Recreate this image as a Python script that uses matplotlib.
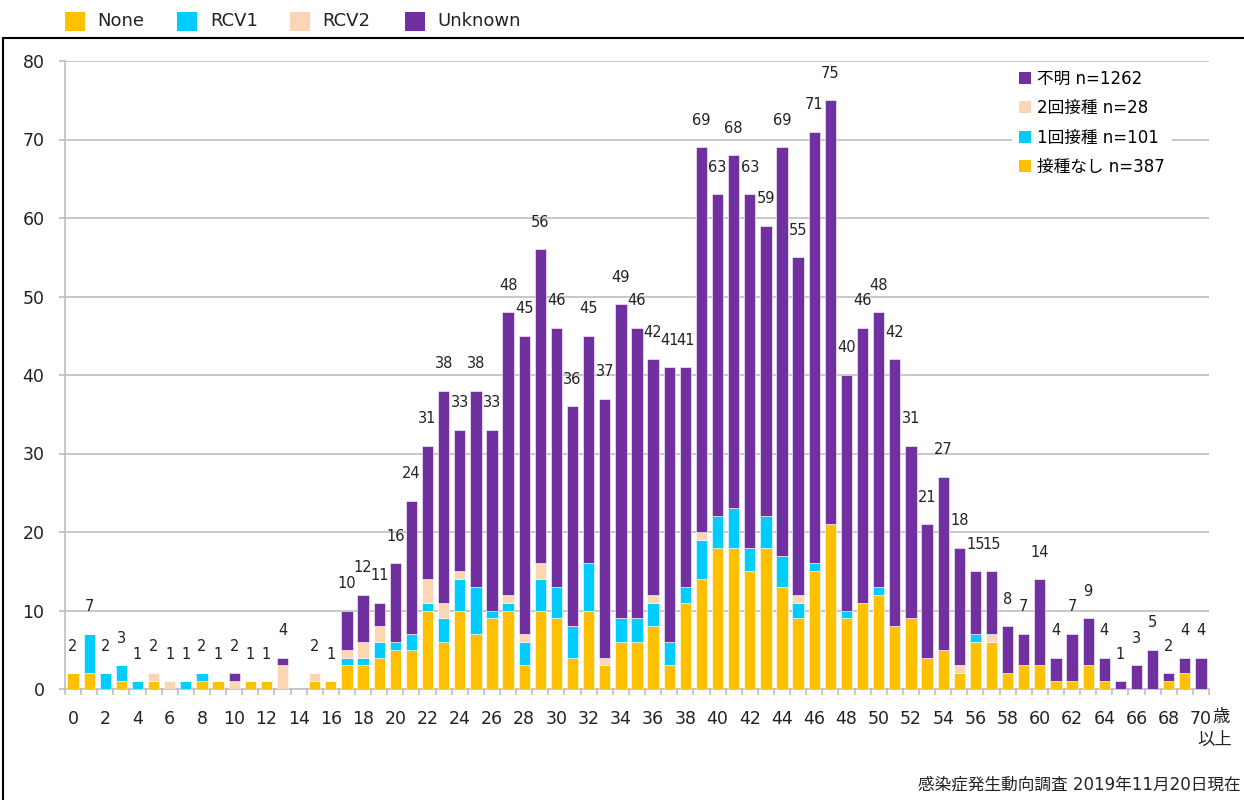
import numpy as np
import matplotlib
matplotlib.use('Agg')
from matplotlib import pyplot as plt
from matplotlib.patches import Rectangle, Patch

plt.rcParams['font.family'] = ['DejaVu Sans', 'Noto Sans CJK JP']

# data (ages 0..70, 70 = "70歳以上")
ages = list(range(71))
none_vals = [2, 2, 0, 1, 0, 1, 0, 0, 1, 1, 0, 1, 1, 0, 0, 1, 1,
             3, 3, 4, 5, 5, 10, 6, 10, 7, 9,
             10, 3, 10, 9, 4, 10, 3, 6, 6, 8,
             3, 11, 14, 18, 18, 15, 18, 13, 9, 15,
             21, 9, 11, 12, 8, 9, 4, 5, 2, 6,
             6, 2, 3, 3, 1, 1, 3, 1, 0, 0, 0, 1, 2, 0]
rcv1_vals = [0, 5, 2, 2, 1, 0, 0, 1, 1, 0, 0, 0, 0, 0, 0, 0, 0,
             1, 1, 2, 1, 2, 1, 3, 4, 6, 1,
             1, 3, 4, 4, 4, 6, 0, 3, 3, 3,
             3, 2, 5, 4, 5, 3, 4, 4, 2, 1,
             0, 1, 0, 1, 0, 0, 0, 0, 0, 1,
             0, 0, 0, 0, 0, 0, 0, 0, 0, 0, 0, 0, 0, 0]
rcv2_vals = [0, 0, 0, 0, 0, 1, 1, 0, 0, 0, 1, 0, 0, 3, 0, 1, 0,
             1, 2, 2, 0, 0, 3, 2, 1, 0, 0,
             1, 1, 2, 0, 0, 0, 1, 0, 0, 1,
             0, 0, 1, 0, 0, 0, 0, 0, 1, 0,
             0, 0, 0, 0, 0, 0, 0, 0, 1, 0,
             1, 0, 0, 0, 0, 0, 0, 0, 0, 0, 0, 0, 0, 0]
unknown_vals = [0, 0, 0, 0, 0, 0, 0, 0, 0, 0, 1, 0, 0, 1, 0, 0, 0,
                5, 6, 3, 10, 17, 17, 27, 18, 25, 23,
                36, 38, 40, 33, 28, 29, 33, 40, 37, 30,
                35, 28, 49, 41, 45, 45, 37, 52, 43, 55,
                54, 30, 35, 35, 34, 22, 17, 22, 15, 8,
                8, 6, 4, 11, 3, 6, 6, 3, 1, 3, 5, 1, 2, 4]

series_names = ['None', 'RCV1', 'RCV2', 'Unknown']
legend_labels = ['接種なし n=387', '1回接種 n=101', '2回接種 n=28', '不明 n=1262']
colors = ['#FFC000', '#00CCFF', '#FCD5B5', '#7030A0']
source_text = '感染症発生動向調査 2019年11月20日現在'

W, H = 1244, 800
fig = plt.figure(figsize=(W / 100, H / 100), dpi=100)
ax = fig.add_axes([65 / W, 111 / H, 1144 / W, 628 / H])

x = np.arange(len(ages))
bottom = np.zeros(len(ages))
for vals, col in zip([none_vals, rcv1_vals, rcv2_vals, unknown_vals], colors):
    vals = np.array(vals)
    ax.bar(x, vals, width=0.7, bottom=bottom, color=col,
           edgecolor='white', linewidth=0.4, zorder=3)
    bottom = bottom + vals

totals = bottom
for xi, t in zip(x, totals):
    if t > 0:
        ax.annotate('%d' % t, (xi, t), xytext=(0, 19.5), textcoords='offset points',
                    ha='center', va='center', fontsize=10.5, color='#222222')

ax.set_xlim(-0.5, 70.5)
ax.set_ylim(0, 80)
ax.set_yticks(np.arange(0, 81, 10))
ax.yaxis.grid(True, color='#BFBFBF', linewidth=1.2, zorder=0)
ax.set_axisbelow(True)
for s in ['top', 'right']:
    ax.spines[s].set_visible(False)
for s in ['left', 'bottom']:
    ax.spines[s].set_color('#BFBFBF')
    ax.spines[s].set_linewidth(1.2)
ax.tick_params(axis='y', length=4.3, width=1.2, color='#BFBFBF', pad=10.5,
               labelsize=12.5, labelcolor='#222222')

even = list(range(0, 71, 2))
ax.set_xticks(even)
ax.set_xticklabels([str(a) for a in even])
ax.set_xticks(np.arange(-0.5, 71, 1), minor=True)
ax.tick_params(axis='x', which='major', length=0, pad=15, labelsize=12.5,
               labelcolor='#222222')
ax.tick_params(axis='x', which='minor', length=4.3, width=1.2, color='#BFBFBF')
ax.annotate('歳', (70, 0), xycoords=('data', 'axes fraction'), xytext=(8, -20.5),
            textcoords='offset points', ha='left', va='center', fontsize=12.5,
            color='#222222')
ax.annotate('以上', (70, 0), xycoords=('data', 'axes fraction'), xytext=(10, -37),
            textcoords='offset points', ha='center', va='center', fontsize=12.5,
            color='#222222')

# legend inside the plot (reverse order like the reference)
handles = [Patch(facecolor=c, edgecolor='none') for c in colors[::-1]]
leg = ax.legend(handles, legend_labels[::-1], loc='upper left',
                bbox_to_anchor=(0.828, 0.997), fontsize=12, frameon=True,
                fancybox=False, borderaxespad=0, handlelength=0.75,
                handleheight=0.75, handletextpad=0.35, labelspacing=0.69,
                borderpad=0.4)
leg.get_frame().set_edgecolor('none')
leg.get_frame().set_facecolor('white')
leg.get_frame().set_alpha(1)

# top legend
sq_x = [65, 177, 290, 405]
txt_x = [97, 210, 322, 437]
for name, col, sx, tx in zip(series_names, colors, sq_x, txt_x):
    fig.patches.append(Rectangle((sx / W, 1 - 31 / H), 20 / W, 19 / H,
                                 transform=fig.transFigure, facecolor=col,
                                 edgecolor='none'))
    fig.text(tx / W, 1 - 21.5 / H, name, ha='left', va='center', fontsize=13,
             color='#222222')

# outer frame (only the left and top edges are visible)
fig.patches.append(Rectangle((3 / W, -0.1), 1.2, 1.1 - 38 / H,
                             transform=fig.transFigure, facecolor='none',
                             edgecolor='black', linewidth=1.5))

fig.text(1241 / W, 1 - 785 / H, source_text, ha='right', va='center', fontsize=12,
         color='#222222')

fig.savefig('out.png', dpi=100)
